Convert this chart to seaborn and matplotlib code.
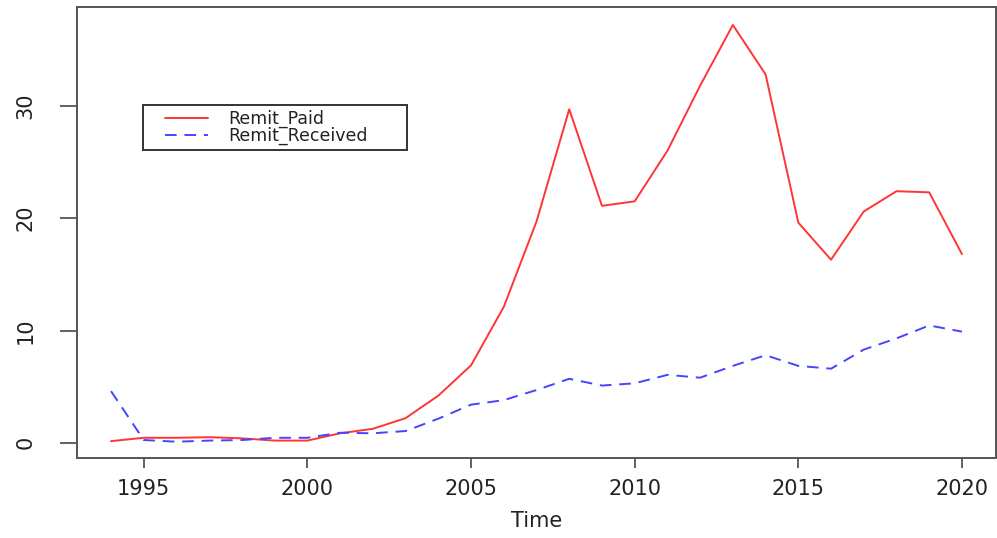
import numpy as np
import pandas as pd
import matplotlib
matplotlib.use("Agg")
import matplotlib.pyplot as plt
from matplotlib.legend_handler import HandlerLine2D
import seaborn as sns

years = list(range(1994, 2021))
remit_paid = [0.15, 0.45, 0.45, 0.5, 0.4, 0.2, 0.2, 0.85, 1.25, 2.2, 4.2, 6.9,
              12.1, 19.7, 29.7, 21.1, 21.5, 26.0, 31.8, 37.2, 32.8, 19.6, 16.3,
              20.6, 22.4, 22.3, 16.8]
remit_received = [4.6, 0.25, 0.1, 0.2, 0.25, 0.45, 0.45, 0.9, 0.85, 1.05, 2.15, 3.4,
                  3.8, 4.7, 5.7, 5.1, 5.3, 6.05, 5.8, 6.85, 7.8, 6.85, 6.6,
                  8.3, 9.3, 10.45, 9.9]
series_names = ["Remit_Paid", "Remit_Received"]
x_ticks = [1995, 2000, 2005, 2010, 2015, 2020]
y_ticks = [0, 10, 20, 30]

df = pd.DataFrame({
    "Time": years * 2,
    "value": remit_paid + remit_received,
    "series": [series_names[0]] * len(years) + [series_names[1]] * len(years),
})

sns.set_style("white")
plt.rcParams["font.family"] = ["DejaVu Sans"]

fig = plt.figure(figsize=(9.97, 5.38), dpi=100)
ax = fig.add_axes([77 / 997, 1 - 458 / 538, 919 / 997, 451 / 538])

sns.lineplot(data=df, x="Time", y="value", hue="series", style="series",
             palette={"Remit_Paid": "#ff3535", "Remit_Received": "#4545ff"},
             dashes={"Remit_Paid": "", "Remit_Received": (6, 4)},
             linewidth=1.4, ax=ax)

ax.set_xlim(1992.96, 2021.04)
ax.set_ylim(-1.35, 38.8)
ax.set_xticks(x_ticks)
ax.set_yticks(y_ticks)
ax.set_xlabel("Time", fontsize=15, color="#222222", labelpad=9)
ax.set_ylabel("")

for s in ax.spines.values():
    s.set_color("#555555")
    s.set_linewidth(1.4)

ax.tick_params(axis="x", length=7, width=1.3, color="#555555", pad=8,
               labelsize=15, labelcolor="#222222", bottom=True)
ax.tick_params(axis="y", length=12, width=1.3, color="#555555", pad=18,
               labelsize=15, labelcolor="#222222", left=True)
for lbl in ax.get_yticklabels():
    lbl.set_rotation(90)
    lbl.set_va("center")

# legend box like R's legend(): handle inset from the frame
handles, labels = ax.get_legend_handles_labels()
leg = ax.legend(handles, labels, loc="upper left",
                bbox_to_anchor=(0.0718, 0.6829, 0.2873, 0.0998), mode="expand",
                borderaxespad=0, fontsize=12.5, labelspacing=-0.1,
                handlelength=3.44, handletextpad=1.15, borderpad=0.3,
                fancybox=False, framealpha=1,
                handler_map={h: HandlerLine2D(xpad=0.97) for h in handles})
leg.get_frame().set_edgecolor("#333333")
leg.get_frame().set_linewidth(1.4)
for t in leg.get_texts():
    t.set_color("#222222")

fig.savefig("out.png", dpi=100)
